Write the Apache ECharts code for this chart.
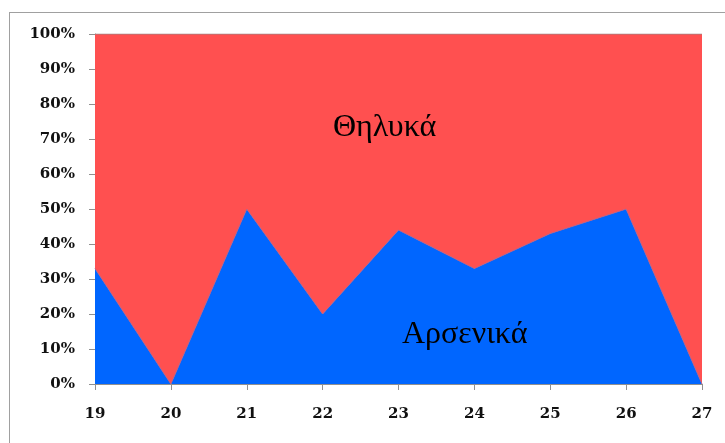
<!DOCTYPE html>
<html><head><meta charset="utf-8">
<script src="https://cdn.jsdelivr.net/npm/echarts@6/dist/echarts.min.js"></script>
<style>html,body{margin:0;padding:0;background:#fff}#c{width:725px;height:443px}
#b{position:absolute;left:9px;top:12px;width:730px;height:440px;border:1px solid #a0a0a0;box-sizing:border-box;pointer-events:none}</style>
</head><body><div id="c"></div><div id="b"></div>
<script>
const categories = ['19','20','21','22','23','24','25','26','27'];
const male = [33, 0, 50, 20, 44, 33, 43, 50, 0];
const female = male.map(v => 100 - v);
const yTicks = [0,10,20,30,40,50,60,70,80,90,100];
const chart = echarts.init(document.getElementById('c'));
chart.setOption({
  animation:false,
  grid:{left:95,right:23,top:34,bottom:59},
  xAxis:{type:'category',data:categories,boundaryGap:false,
    axisLine:{lineStyle:{color:'#909090'}},
    axisTick:{show:true,length:6,alignWithLabel:true,lineStyle:{color:'#909090'}},
    axisLabel:{margin:23,color:'#111',fontFamily:'DejaVu Serif',fontWeight:'bold',fontSize:15}},
  yAxis:{type:'value',min:0,max:100,interval:10,
    axisLine:{show:true,lineStyle:{color:'#909090'}},
    axisTick:{show:true,length:6,lineStyle:{color:'#909090'}},
    splitLine:{show:false},
    axisLabel:{margin:20,color:'#111',fontFamily:'DejaVu Serif',fontWeight:'bold',fontSize:15,formatter:v=>v+'%'}},
  series:[
    {name:'Αρσενικά',type:'line',stack:'a',data:male,symbol:'none',
      lineStyle:{width:1,color:'#c06080'},areaStyle:{color:'#0066FF',opacity:1},z:3},
    {name:'Θηλυκά',type:'line',stack:'a',data:female,symbol:'none',
      lineStyle:{width:1,color:'#a08080'},areaStyle:{color:'#FF5050',opacity:1},z:2}
  ],
  graphic:[
    {type:'text',left:333,top:112,style:{text:'Θηλυκά',font:'32px "Liberation Serif"',fill:'#000'},z:10},
    {type:'text',left:402,top:319,style:{text:'Αρσενικά',font:'32px "Liberation Serif"',fill:'#000'},z:10}
  ]
});
</script></body></html>
